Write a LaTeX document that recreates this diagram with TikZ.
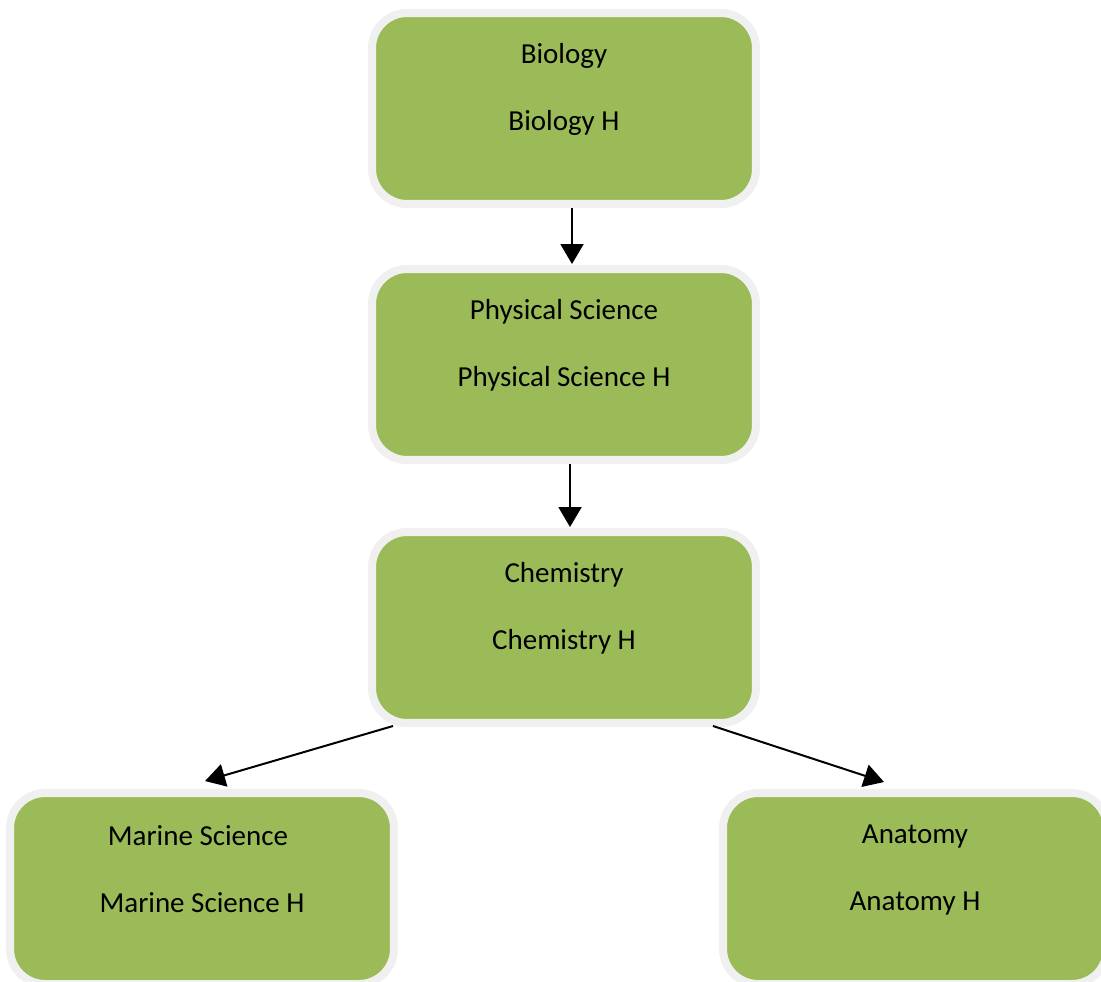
\documentclass[tikz,border=0pt]{standalone}
\usepackage{fontspec}
\setmainfont{Carlito}
\usetikzlibrary{arrows.meta,calc}

\definecolor{boxgreen}{HTML}{9BBB59}
\definecolor{boxedge}{HTML}{F0F0F0}

\tikzset{
  course/.style={rectangle, rounded corners=0.7cm, fill=boxgreen, draw=boxedge,
    line width=0.16cm, minimum width=7.68cm, minimum height=3.82cm, inner sep=0pt},
  lbl/.style={font=\fontsize{16.5}{20}\selectfont, inner sep=0pt},
  arr/.style={line width=0.04cm, -{Triangle[length=0.4cm,width=0.46cm]}}
}

\begin{document}
\begin{tikzpicture}[x=0.02cm, y=-0.02cm]
            \useasboundingbox (0,0) rectangle (1101,981);

            % boxes
            \node[course] (bio)  at (564,108.5) {};
            \node[course] (phys) at (564,364.5) {};
            \node[course] (chem) at (564,627.5) {};
            \node[course] (mar)  at (202,888.5) {};
            \node[course] (anat) at (915,888.5) {};

            % course names
            \node[lbl] (bioA)  at ($(bio.north)+(0,47)$)   {Biology};
            \node[lbl] (bioB)  at ($(bio.north)+(0,114)$)  {Biology H};
            \node[lbl] (physA) at ($(phys.north)+(0,47)$)  {Physical Science};
            \node[lbl] (physB) at ($(phys.north)+(0,114)$) {Physical Science H};
            \node[lbl] (chemA) at ($(chem.north)+(0,47)$)  {Chemistry};
            \node[lbl] (chemB) at ($(chem.north)+(0,114)$) {Chemistry H};
            \node[lbl] (marA)  at ($(mar.north)+(-4,47)$)  {Marine Science};
            \node[lbl] (marB)  at ($(mar.north)+(0,114)$)  {Marine Science H};
            \node[lbl] (anatA) at ($(anat.north)+(0,47)$)  {Anatomy};
            \node[lbl] (anatB) at ($(anat.north)+(0,114)$) {Anatomy H};

            % arrows
            \draw[arr] ($(bio.south)+(8,0)$) -- ($(phys.north)+(8,-1)$);
            \draw[arr] ($(phys.south)+(6,0)$) -- ($(chem.north)+(6,-1)$);
            \draw[arr] ($(chem.south west)+(25,-1)$) -- ($(mar.north)+(3,-8)$);
            \draw[arr] ($(chem.south east)+(-47,-1)$) -- ($(anat.north)+(-31,-7)$);
        \end{tikzpicture}
\end{document}
